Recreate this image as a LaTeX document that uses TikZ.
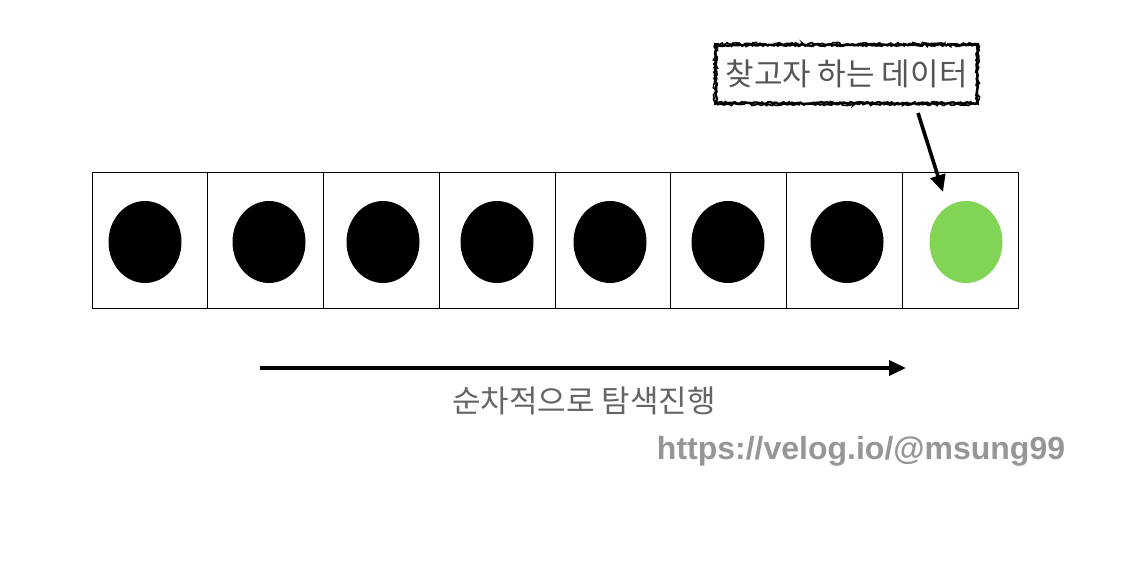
\documentclass[tikz,border=0pt]{standalone}
\usepackage{fontspec}
\usepackage{tikz}
\usetikzlibrary{arrows.meta,positioning,shapes.geometric,decorations.pathmorphing}
\newfontfamily\kr{Noto Sans CJK KR}
\newfontfamily\urlfont{Liberation Sans}
\definecolor{found}{RGB}{130,212,85}
\definecolor{labelgray}{RGB}{85,85,85}
\definecolor{dirgray}{RGB}{100,100,100}
\definecolor{urlgray}{RGB}{150,150,150}

\begin{document}
\begin{tikzpicture} [
      x = 0.5pt, y = -0.5pt,
      cell/.style = { draw, line width = 0.5pt, minimum width = 57.875pt, minimum height = 68pt, inner sep = 0 },
      dot/.style = { ellipse, fill = black, minimum width = 36.5pt, minimum height = 41pt, inner sep = 0 },
      callout/.style = { draw, line width = 1.2pt, decorate, decoration = { random steps, segment length = 0.8pt, amplitude = 0.5pt },
                         minimum width = 130.5pt, minimum height = 29pt, inner sep = 0, text = labelgray, font = \kr\fontsize{15.5pt}{17pt}\selectfont },
      pointer/.style = { line width = 1.8pt, -{Triangle[length = 8.5pt, width = 7.5pt]} }
      ]
  \useasboundingbox (0,0) rectangle (1134,576);

  % the array
  \foreach \i in {1,...,8}
    \node [cell] (c\i) at ({92 + 115.75*(\i - 0.5)}, 241) {};
  \foreach \i/\x in {1/145, 2/269, 3/383, 4/497, 5/610, 6/728, 7/847}
    \node [dot] (d\i) at (\x, 242) {};
  \node [dot, fill = found] (d8) at (966, 242) {};

  % what we look for
  \node [callout] (target) at (846.5, 74) {찾고자 하는 데이터};
  \draw [line width = 0.8pt, decorate, decoration = { random steps, segment length = 1.2pt, amplitude = 0.7pt }]
    (target.south west) rectangle (target.north east);
  \coordinate (from) at (918, 113);
  \coordinate (tip) at (943, 192);
  \draw [pointer] (from) -- (tip);

  % direction of the search
  \coordinate (start) at (260, 368);
  \coordinate (stop) at (906, 368);
  \draw [pointer] (start) -- (stop);
  \node [text = dirgray, font = \kr\fontsize{15.5pt}{17pt}\selectfont] (dir) at (584, 401) {순차적으로 탐색진행};

  \node [text = urlgray, font = \urlfont\bfseries\fontsize{16pt}{18pt}\selectfont] (url) at (861, 451) {https://velog.io/@msung99};
\end{tikzpicture}
\end{document}
